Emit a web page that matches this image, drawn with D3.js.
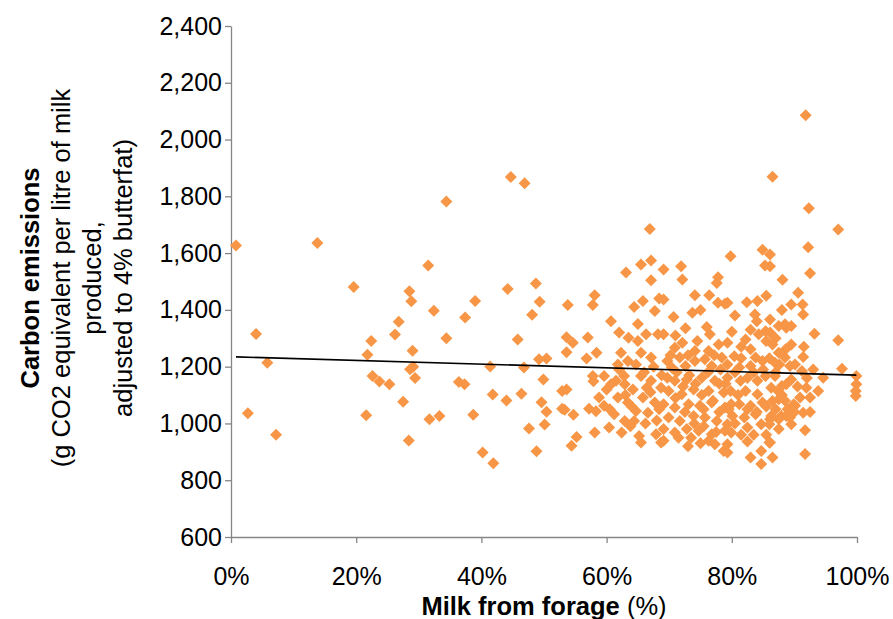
<!DOCTYPE html>
<html lang="en">
<head>
<meta charset="UTF-8">
<title>Carbon emissions vs milk from forage</title>
<script src="https://d3js.org/d3.v7.min.js"></script>
<style>
  body { margin: 0; background: #fff; font-family: "Liberation Sans", Arial, sans-serif; }
  .axis path, .axis line { stroke: #868686; stroke-width: 1.3px; }
  .axis text { font-size: 25px; fill: #000; font-family: "Liberation Sans", Arial, sans-serif; }
  .title { font-size: 25.5px; fill: #000; }
</style>
</head>
<body>
<div id="chart"></div>
<script>
// Milk from forage (%) for each farm
const forage = [
  0.8, 13.8, 19.6, 4.0, 5.8, 2.7, 7.2, 31.5, 28.5, 28.8, 32.4, 26.8, 26.2, 22.4, 21.8, 29.0, 29.1, 28.6, 29.4, 22.6,
  23.7, 25.3, 27.5, 21.6, 31.7, 33.3, 28.4,
  44.7, 46.9, 34.4, 44.2, 48.7, 49.3, 39.0, 37.4, 48.1, 53.8, 58.1, 57.8, 34.4, 45.8, 53.6, 54.6, 57.0, 53.6, 56.8,
  58.4, 49.2, 50.4, 41.4, 46.8, 36.4, 37.3, 49.9, 57.8, 57.9, 41.8, 44.0, 46.4, 49.6, 50.4, 52.9, 53.6, 52.9, 53.3,
  54.7, 57.2, 58.3, 38.7, 47.6, 50.1, 55.2, 54.4, 58.1, 40.2, 41.9, 48.8,
  66.9, 65.5, 67.1, 63.1, 67.1, 64.4, 65.8, 68.4, 67.7, 60.7, 63.5, 66.3, 68.2, 65.0, 62.3, 65.5, 67.1, 63.4, 61.8,
  64.7, 59.6, 62.8, 65.5, 67.1, 60.7, 62.9, 64.2, 66.4, 68.7, 58.8, 61.8, 65.8, 67.7, 59.6, 63.4, 61.2, 64.7, 66.6,
  68.4, 62.9, 64.4, 60.4, 62.4, 65.2, 67.9, 68.7, 65.5,
  69.1, 71.9, 72.1, 77.8, 77.6, 74.1, 76.4, 69.1, 77.8, 78.9, 70.7, 73.7, 72.6, 69.1, 76.5, 72.1, 70.9, 77.9, 74.1,
  76.3, 69.7, 71.7, 74.1, 75.7, 78.4, 70.4, 72.6, 76.8, 69.7, 70.9, 72.8, 75.2, 77.3, 69.9, 72.0, 73.9, 76.3, 78.7,
  69.1, 70.9, 73.1, 74.9, 76.8, 78.9, 69.9, 71.7, 73.9, 75.7, 77.6, 69.1, 70.9, 72.8, 74.7, 76.8, 78.9, 69.1, 76.3,
  77.3, 78.7,
  79.8, 84.9, 85.3, 79.3, 82.4, 84.1, 83.7, 86.1, 88.5, 80.0, 84.3, 85.4, 79.3, 82.2, 83.0, 86.5, 88.6, 80.4, 79.3,
  83.8, 84.9, 81.2, 83.0, 87.6, 79.3, 81.4, 84.1, 85.4, 86.3, 88.7, 79.8, 82.2, 84.1, 87.4, 79.9, 81.2, 83.0, 84.9,
  86.5, 88.9, 80.1, 82.0, 83.8, 86.3, 87.9, 79.3, 84.7, 86.0, 79.9, 82.5, 82.5, 86.0, 84.7, 79.3, 84.7, 79.3,
  91.8, 86.5, 92.3, 97.0, 92.2, 92.5, 90.6, 91.3, 91.4, 89.5, 89.5, 93.2, 97.0, 89.5, 91.4, 90.1, 91.2, 97.6, 94.6,
  99.9, 99.9, 99.8, 99.8, 91.9, 93.8, 92.5, 90.9, 90.1, 91.4, 89.3, 89.5, 91.7, 91.7, 86.1, 86.1, 88.1, 88.7, 87.5,
  86.1, 87.5, 88.5, 86.9, 89.3, 89.5, 86.9, 88.0, 87.5, 86.1, 88.7, 89.9, 87.5, 86.1,
  // farms hidden in the dense cluster
  60.0, 61.5, 63.0, 64.0, 66.0, 67.5, 68.0, 63.8, 66.2, 60.5, 62.0, 67.0, 68.8, 65.0, 62.0,
  70.2, 71.2, 72.2, 73.2, 74.2, 75.2, 76.2, 77.2, 78.2, 79.0, 71.0, 72.5, 74.0, 75.5, 77.0, 78.0, 79.5, 71.5, 73.5,
  75.5, 77.5, 78.0, 74.5, 73.0, 76.0, 71.0, 75.0, 73.0, 75.0,
  80.5, 81.5, 82.5, 83.5, 85.0, 86.0, 87.0, 88.0, 81.0, 82.5, 84.0, 85.5, 87.0, 88.5, 80.5, 81.5, 83.5, 85.5, 87.5,
  81.5, 83.0, 85.5, 87.0, 84.0, 80.5, 88.0, 85.5, 83.0, 86.5,
  90.5, 92.0, 91.5, 90.0, 92.5, 93.0
];

// Carbon emissions (g CO2 eq per litre), same order as forage
const emissions = [
  1627, 1636, 1481, 1315, 1214, 1036, 960, 1556, 1466, 1430, 1397, 1358, 1313, 1290, 1242, 1256, 1200, 1191, 1160, 1167,
  1148, 1138, 1076, 1029, 1015, 1026, 940,
  1868, 1846, 1782, 1474, 1493, 1429, 1431, 1373, 1383, 1417, 1452, 1417, 1300, 1296, 1304, 1284, 1303, 1251, 1229,
  1249, 1226, 1229, 1201, 1197, 1146, 1138, 1155, 1167, 1149, 1102, 1081, 1105, 1075, 1041, 1114, 1120, 1052, 1048,
  1031, 1052, 1043, 1031, 982, 996, 952, 921, 968, 898, 860, 902,
  1685, 1560, 1574, 1532, 1504, 1410, 1431, 1440, 1396, 1360, 1302, 1314, 1314, 1290, 1249, 1249, 1232, 1220, 1208,
  1208, 1167, 1167, 1167, 1150, 1138, 1138, 1120, 1126, 1126, 1091, 1091, 1091, 1074, 1062, 1074, 1032, 1044, 1038,
  1050, 1009, 1009, 986, 968, 956, 962, 933, 933,
  1542, 1554, 1507, 1515, 1495, 1452, 1452, 1437, 1425, 1422, 1375, 1390, 1335, 1314, 1314, 1284, 1267, 1278, 1255,
  1255, 1220, 1232, 1220, 1226, 1232, 1197, 1202, 1202, 1161, 1150, 1155, 1161, 1150, 1114, 1103, 1120, 1114, 1109,
  1068, 1056, 1068, 1062, 1074, 1056, 1021, 1009, 1026, 1021, 1009, 980, 968, 980, 974, 962, 974, 939, 939,
  927, 903,
  1589, 1612, 1556, 1425, 1427, 1431, 1384, 1366, 1349, 1323, 1314, 1325, 1284, 1296, 1261, 1278, 1261, 1237, 1208,
  1232, 1220, 1197, 1202, 1208, 1161, 1150, 1150, 1167, 1126, 1138, 1114, 1114, 1103, 1114, 1068, 1068, 1062, 1074,
  1079, 1050, 1026, 1021, 1032, 1026, 1026, 997, 997, 997, 968, 986, 936, 933, 903, 898, 857, 927,
  2086, 1869, 1758, 1683, 1621, 1529, 1460, 1419, 1384, 1419, 1343, 1316, 1293, 1278, 1234, 1208, 1185, 1193, 1161,
  1167, 1138, 1114, 1097, 1126, 1114, 1091, 1091, 1062, 1038, 1021, 997, 976, 892, 1595, 1554, 1506, 1337, 1343,
  1320, 1249, 1232, 1214, 1202, 1155, 1167, 1132, 1085, 1015, 1026, 1068, 1015, 933,
  1120, 1150, 1100, 1060, 1180, 1200, 1010, 990, 1000, 1050, 1190, 1110, 1170, 1350, 1320,
  1240, 1180, 1130, 1170, 1140, 1100, 1180, 1240, 1190, 1140, 1090, 1040, 1000, 1050, 1080, 1040, 1050, 950, 950,
  990, 970, 1140, 1290, 1240, 1340, 1310, 1400, 920, 930,
  1180, 1230, 1160, 1180, 1190, 1230, 1180, 1100, 1100, 1050, 1040, 1060, 1050, 1080, 1000, 960, 960, 960, 980,
  1270, 1330, 1290, 1300, 1360, 1380, 1400, 1450, 880, 880,
  1130, 1160, 1270, 1040, 1040, 1190
];

const xTicks = [0, 20, 40, 60, 80, 100];
const yTicks = [600, 800, 1000, 1200, 1400, 1600, 1800, 2000, 2200, 2400];
// linear trend line
const trendIntercept = 1235;
const trendSlope = -0.65;

const width = 893;
const height = 619;
const margin = {top: 26, right: 36, bottom: 82, left: 231};

const svg = d3.select("#chart")
  .append("svg")
  .attr("width", width)
  .attr("height", height);

const x = d3.scaleLinear().domain([0, 100]).range([margin.left, width - margin.right]);
const y = d3.scaleLinear().domain([600, 2400]).range([height - margin.bottom, margin.top]);

const points = forage.map((f, i) => ({f: f, e: emissions[i]}));

// axes
svg.append("g")
  .attr("class", "axis")
  .attr("transform", `translate(${margin.left},0)`)
  .call(d3.axisLeft(y).tickValues(yTicks).tickFormat(d3.format(",")).tickSize(6).tickSizeOuter(0).tickPadding(3));

svg.append("g")
  .attr("class", "axis")
  .attr("transform", `translate(0,${height - margin.bottom})`)
  .call(d3.axisBottom(x).tickValues(xTicks).tickFormat(d => d + "%").tickSize(6).tickSizeOuter(0).tickPadding(24));

// diamond markers
const r = 6;
svg.append("g")
  .selectAll("path")
  .data(points)
  .join("path")
  .attr("d", `M0,${-r}L${r},0L0,${r}L${-r},0Z`)
  .attr("transform", d => `translate(${x(d.f)},${y(d.e)})`)
  .attr("fill", "#F79646");

// trend line
const xExt = d3.extent(forage);
svg.append("line")
  .attr("x1", x(xExt[0]))
  .attr("y1", y(trendIntercept + trendSlope * xExt[0]))
  .attr("x2", x(xExt[1]))
  .attr("y2", y(trendIntercept + trendSlope * xExt[1]))
  .attr("stroke", "#000")
  .attr("stroke-width", 1.6);

// x title
const xt = svg.append("text")
  .attr("class", "title")
  .attr("x", (margin.left + width - margin.right) / 2)
  .attr("y", 615)
  .attr("text-anchor", "middle");
xt.append("tspan").attr("font-weight", "bold").text("Milk from forage");
xt.append("tspan").text(" (%)");

// y title
const yLines = [
  {t: "Carbon emissions", bold: true},
  {t: "(g CO2 equivalent per litre of milk", bold: false},
  {t: "produced,", bold: false},
  {t: "adjusted to 4% butterfat)", bold: false}
];
const yt = svg.append("text")
  .attr("class", "title")
  .attr("transform", "translate(39,278) rotate(-90)")
  .attr("text-anchor", "middle");
yLines.forEach((l, i) => {
  yt.append("tspan")
    .attr("x", 0)
    .attr("dy", i === 0 ? 0 : 31)
    .attr("font-weight", l.bold ? "bold" : "normal")
    .text(l.t);
});
</script>
</body>
</html>
